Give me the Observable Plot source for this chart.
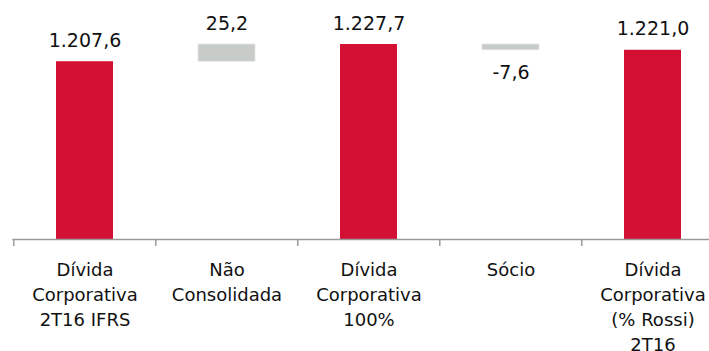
<!DOCTYPE html>
<html>
<head>
<meta charset="utf-8">
<script src="https://cdn.jsdelivr.net/npm/d3@7"></script>
<script src="https://cdn.jsdelivr.net/npm/@observablehq/plot@0.6"></script>
<style>
  html, body { margin: 0; padding: 0; background: #fff; overflow: hidden; }
  #chart svg { display: block; }
</style>
</head>
<body>
<div id="chart"></div>
<script>
const categories = [
  "Dívida\nCorporativa\n2T16 IFRS",
  "Não\nConsolidada",
  "Dívida\nCorporativa\n100%",
  "Sócio",
  "Dívida\nCorporativa\n(% Rossi)\n2T16"
];
const values = [1207.6, 25.2, 1227.7, -7.6, 1221.0];
const kinds = ["total", "delta", "total", "delta", "total"];
const valueLabels = ["1.207,6", "25,2", "1.227,7", "-7,6", "1.221,0"];

const yMin = 1000;
const RED = "#d31034";
const GRAY = "#c8ccc9";

// Build bars: totals from axis base, deltas floating between adjacent totals
const rows = categories.map((c, i) => {
  if (kinds[i] === "total") {
    return {cat: c, y1: yMin, y2: values[i], kind: "total", label: valueLabels[i], above: true};
  }
  const prev = values[i - 1];
  const next = values[i + 1];
  return {cat: c, y1: prev, y2: next, kind: "delta", label: valueLabels[i], above: values[i] >= 0};
});
rows.forEach(r => {
  r.top = Math.max(r.y1, r.y2);
  r.bottom = Math.min(r.y1, r.y2);
});

const W = 709, H = 351;
const step = 142.45;
const font = "DejaVu Sans, Verdana, sans-serif";

const chart = Plot.plot({
  width: W,
  height: H,
  marginLeft: 12.3,
  marginRight: W - (12.3 + step * 5),
  marginTop: 0,
  marginBottom: 112,
  style: {fontFamily: font, background: "#fff"},
  x: {domain: categories, paddingInner: 0.6, paddingOuter: 0.3, axis: null},
  y: {domain: [yMin, 1279.1], axis: null},
  marks: [
    Plot.barY(rows, {
      x: "cat", y1: "y1", y2: "y2",
      fill: d => d.kind === "total" ? RED : GRAY,
      stroke: d => d.kind === "total" ? "none" : "#e2e4e2",
      strokeWidth: 0.8
    }),
    Plot.ruleY([yMin], {stroke: "#9a9a9a", strokeWidth: 1.5}),
    Plot.axisX({
      domain: categories,
      tickSize: 7,
      tickFormat: () => "",
      stroke: "#9a9a9a",
      strokeWidth: 1.5,
      dx: -step / 2,
      label: null
    }),
    Plot.text(rows.filter(r => r.above), {
      x: "cat", y: "top", text: "label",
      dy: -21, lineAnchor: "middle",
      fontSize: 19, fill: "#111"
    }),
    Plot.text(rows.filter(r => !r.above), {
      x: "cat", y: "bottom", text: "label",
      dy: 23, lineAnchor: "middle",
      fontSize: 19, fill: "#111"
    }),
    Plot.text(categories, {
      x: d => d, y: () => yMin, text: d => d,
      dy: 18.5, lineAnchor: "top", lineHeight: 25 / 18,
      fontSize: 18, fill: "#111"
    })
  ]
});
document.getElementById("chart").appendChild(chart);
</script>
</body>
</html>
